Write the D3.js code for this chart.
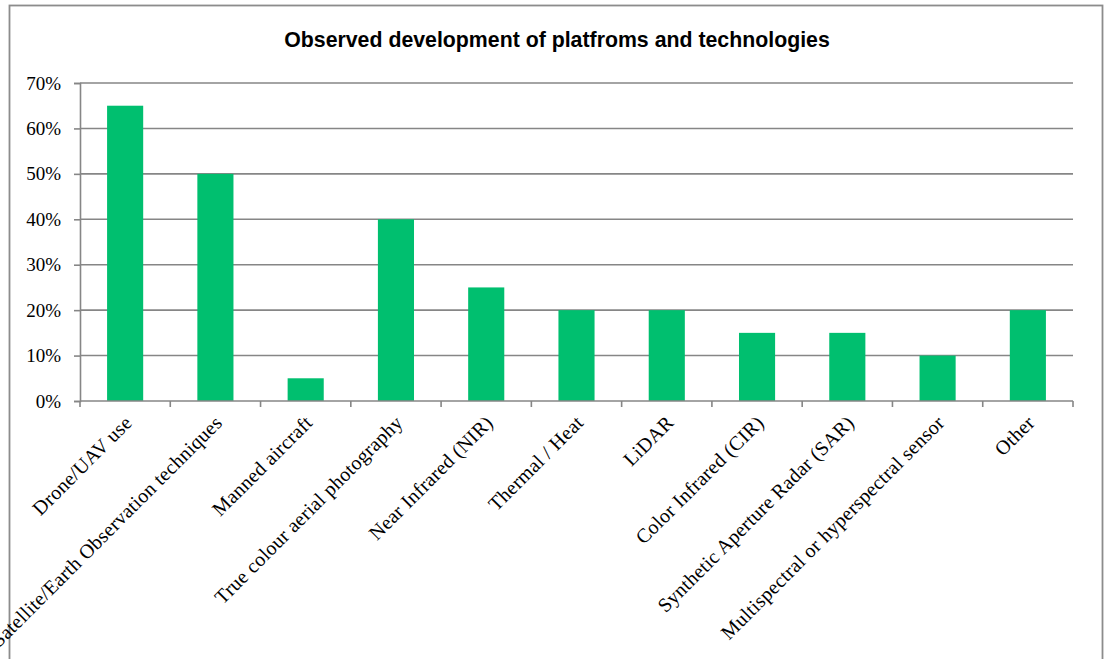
<!DOCTYPE html>
<html>
<head>
<meta charset="utf-8">
<script src="https://cdn.jsdelivr.net/npm/d3@7"></script>
<style>
  html, body { margin: 0; padding: 0; background: #fff; }
  svg { display: block; }
</style>
</head>
<body>
<svg id="chart" width="1107" height="659"></svg>
<script>
// Categories and shares (percent) of observed platform / technology development
const categories = [
  "Drone/UAV use",
  "Satellite/Earth Observation techniques",
  "Manned aircraft",
  "True colour aerial photography",
  "Near Infrared (NIR)",
  "Thermal / Heat",
  "LiDAR",
  "Color Infrared (CIR)",
  "Synthetic Aperture Radar (SAR)",
  "Multispectral or hyperspectral sensor",
  "Other"
];
const values = [65, 50, 5, 40, 25, 20, 20, 15, 15, 10, 20];
const yTicks = [0, 10, 20, 30, 40, 50, 60, 70];
const chartTitle = "Observed development of platfroms and technologies";

const svg = d3.select("#chart");
const W = 1107, H = 659;
const margin = { left: 80, right: 34, top: 83, bottom: 258 };
const plotW = W - margin.left - margin.right;
const plotH = H - margin.top - margin.bottom;

// outer frame
svg.append("rect")
  .attr("x", 9.5).attr("y", 5.5)
  .attr("width", 1093).attr("height", 670)
  .attr("fill", "#fff").attr("stroke", "#8c8c8c").attr("stroke-width", 1.8);

svg.append("text")
  .attr("x", 557).attr("y", 47)
  .attr("text-anchor", "middle")
  .attr("font-family", "Liberation Sans, Arial, sans-serif")
  .attr("font-weight", "bold")
  .attr("font-size", 21.3)
  .attr("fill", "#000")
  .text(chartTitle);

const g = svg.append("g").attr("transform", `translate(${margin.left},${margin.top})`);

const x = d3.scaleBand().domain(categories).range([0, plotW]).paddingInner(0.6).paddingOuter(0.3);
const y = d3.scaleLinear().domain([0, 70]).range([plotH, 0]);

// horizontal gridlines
g.append("g").selectAll("line")
  .data(yTicks.filter(t => t > 0))
  .join("line")
  .attr("x1", 0).attr("x2", plotW)
  .attr("y1", d => y(d)).attr("y2", d => y(d))
  .attr("stroke", "#868686").attr("stroke-width", 1.6);

// bars
g.append("g").selectAll("rect")
  .data(values)
  .join("rect")
  .attr("x", (d, i) => x(categories[i]))
  .attr("y", d => y(d))
  .attr("width", x.bandwidth())
  .attr("height", d => plotH - y(d))
  .attr("fill", "#00bf6f");

// y axis
const yAxis = g.append("g")
  .call(d3.axisLeft(y).tickValues(yTicks).tickSize(6).tickPadding(13).tickFormat(d => d + "%"));
yAxis.select(".domain").attr("stroke", "#868686").attr("stroke-width", 1.6);
yAxis.selectAll(".tick line").attr("stroke", "#868686").attr("stroke-width", 1.6);
yAxis.selectAll(".tick text")
  .attr("font-family", "Liberation Serif, Times New Roman, serif")
  .attr("font-size", 19).attr("fill", "#000");

// x axis: ticks at band boundaries
const boundaries = d3.range(categories.length + 1).map(i => i * (plotW / categories.length));
const xAxisG = g.append("g").attr("transform", `translate(0,${plotH})`);
xAxisG.append("line")
  .attr("x1", 0).attr("x2", plotW)
  .attr("stroke", "#868686").attr("stroke-width", 1.6);
xAxisG.selectAll("line.tk")
  .data(boundaries)
  .join("line").attr("class", "tk")
  .attr("x1", d => d).attr("x2", d => d)
  .attr("y1", 0).attr("y2", 6)
  .attr("stroke", "#868686").attr("stroke-width", 1.6);

xAxisG.selectAll("text")
  .data(categories)
  .join("text")
  .attr("text-anchor", "end")
  .attr("font-family", "Liberation Serif, Times New Roman, serif")
  .attr("font-size", 20)
  .attr("letter-spacing", 0.25)
  .attr("fill", "#000")
  .attr("transform", d => `translate(${x(d) + x.bandwidth() / 2 + 8},${23}) rotate(-45)`)
  .text(d => d);
</script>
</body>
</html>
